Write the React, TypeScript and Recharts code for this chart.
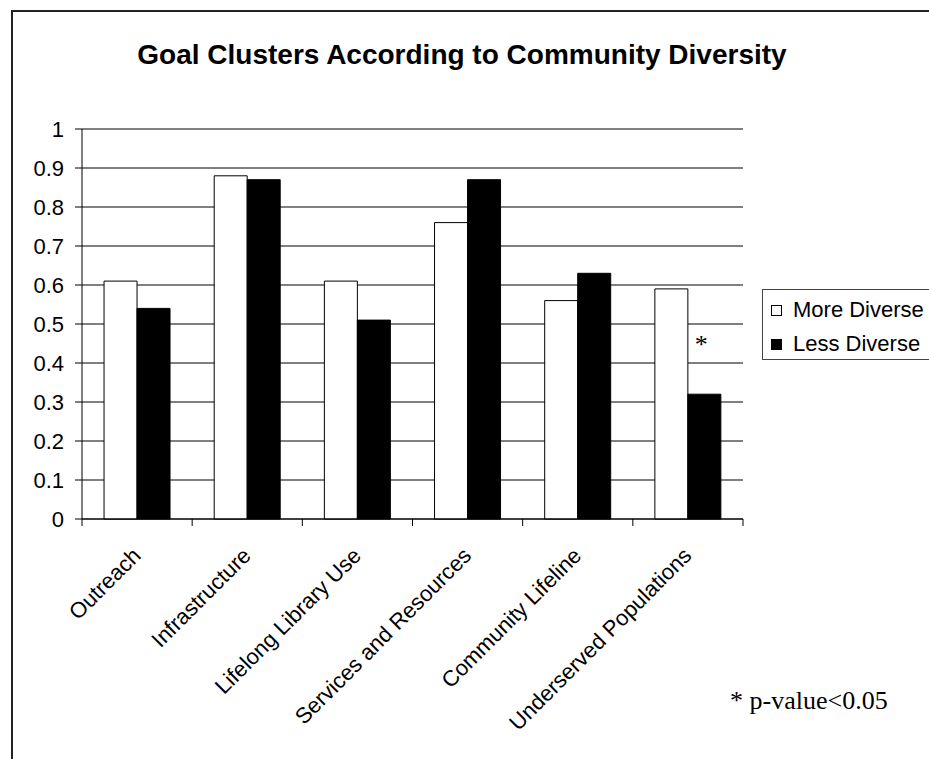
import React from 'react';
import { BarChart, Bar, XAxis, YAxis, CartesianGrid, Legend, LabelList } from 'recharts';

const categories = [
  'Outreach',
  'Infrastructure',
  'Lifelong Library Use',
  'Services and Resources',
  'Community Lifeline',
  'Underserved Populations',
];
const moreDiverse = [0.61, 0.88, 0.61, 0.76, 0.56, 0.59];
const lessDiverse = [0.54, 0.87, 0.51, 0.87, 0.63, 0.32];
// significance marks shown above the "Less Diverse" bar
const significance = ['', '', '', '', '', '*'];
const yTicks = [0, 0.1, 0.2, 0.3, 0.4, 0.5, 0.6, 0.7, 0.8, 0.9, 1];

const seriesNames = ['More Diverse', 'Less Diverse'];
const sans = '"Liberation Sans", Arial, sans-serif';
const serif = '"Liberation Serif", "Times New Roman", serif';

const data = categories.map((name, i) => ({
  name,
  more: moreDiverse[i],
  less: lessDiverse[i],
  sig: significance[i],
}));

const XTick = (props: any) => {
  const { x, y, payload, index, visibleTicksCount } = props;
  const half = typeof payload?.offset === 'number' && payload.offset > 0 ? payload.offset : 55;
  const isLast = index === (visibleTicksCount ?? categories.length) - 1;
  return (
    <g>
      <line x1={x - half} x2={x - half} y1={y} y2={y + 7} stroke="#000" />
      {isLast && <line x1={x + half} x2={x + half} y1={y} y2={y + 7} stroke="#000" />}
      <text
        x={x + 5}
        y={y + 38}
        textAnchor="end"
        fontFamily={sans}
        fontSize={22}
        fill="#000"
        transform={`rotate(-45, ${x + 5}, ${y + 38})`}
      >
        {payload.value}
      </text>
    </g>
  );
};

const LegendBox = (props: any) => {
  const payload = [...(props.payload || [])].sort(
    (a: any, b: any) => seriesNames.indexOf(a.value) - seriesNames.indexOf(b.value)
  );
  return (
    <div
      style={{
        width: 175,
        height: 71,
        border: '1px solid #444',
        background: '#fff',
        boxSizing: 'border-box',
        paddingTop: 3,
      }}
    >
      {payload.map((p: any) => (
        <div key={p.value} style={{ display: 'flex', alignItems: 'center', height: 34, paddingLeft: 8 }}>
          <span
            style={{
              display: 'inline-block',
              width: 11,
              height: 11,
              boxSizing: 'border-box',
              border: '1px solid #000',
              background: p.color,
              marginRight: 11,
            }}
          />
          <span style={{ fontFamily: sans, fontSize: 22, color: '#000', whiteSpace: 'nowrap' }}>{p.value}</span>
        </div>
      ))}
    </div>
  );
};

export default function App() {
  return (
    <div style={{ position: 'absolute', left: 0, top: 0, width: 929, height: 759, overflow: 'hidden', background: '#fff' }}>
      <div
        style={{
          position: 'absolute',
          left: 11,
          top: 10,
          width: 930,
          height: 760,
          borderLeft: '2px solid #222',
          borderTop: '2px solid #222',
        }}
      />
      <BarChart
        width={929}
        height={759}
        data={data}
        margin={{ top: 129, right: 186, left: 22, bottom: 120 }}
        barCategoryGap="20%"
        barGap={0}
        style={{ position: 'absolute', left: 0, top: 0 }}
      >
        <CartesianGrid vertical={false} stroke="#000" />
        <XAxis
          dataKey="name"
          interval={0}
          height={120}
          tickLine={false}
          tickSize={0}
          tickMargin={0}
          axisLine={{ stroke: '#000' }}
          tick={<XTick />}
        />
        <YAxis
          domain={[0, 1]}
          ticks={yTicks}
          width={60}
          tickSize={7}
          tickMargin={11}
          axisLine={{ stroke: '#000' }}
          tickLine={{ stroke: '#000' }}
          tick={{ fontFamily: sans, fontSize: 22, fill: '#000' }}
        />
        <YAxis
          yAxisId="border"
          orientation="right"
          domain={[0, 1]}
          width={0}
          tick={false}
          tickLine={false}
          axisLine={{ stroke: '#000' }}
        />
        <Legend
          layout="vertical"
          align="center"
          verticalAlign="middle"
          content={<LegendBox />}
          wrapperStyle={{ position: 'absolute', left: 762, top: 289, width: 175, height: 71 }}
        />
        <Bar dataKey="more" name={seriesNames[0]} fill="#fff" stroke="#000" strokeWidth={1} isAnimationActive={false} />
        <Bar dataKey="less" name={seriesNames[1]} fill="#000" stroke="#000" strokeWidth={1} isAnimationActive={false}>
          <LabelList
            dataKey="sig"
            content={(p: any) =>
              p.value ? (
                <text
                  x={Number(p.x) + Number(p.width) / 2 - 3}
                  y={Number(p.y) - 41}
                  textAnchor="middle"
                  fontFamily={serif}
                  fontSize={26}
                  fill="#000"
                >
                  {p.value}
                </text>
              ) : null
            }
          />
        </Bar>
      </BarChart>
      <svg width={929} height={759} style={{ position: 'absolute', left: 0, top: 0, pointerEvents: 'none' }}>
        <text x={462} y={64} textAnchor="middle" fontFamily={sans} fontWeight="bold" fontSize={28} fill="#000">
          Goal Clusters According to Community Diversity
        </text>
        <text x={730} y={709} fontFamily={serif} fontSize={26} fill="#000">
          * p-value&lt;0.05
        </text>
      </svg>
    </div>
  );
}
